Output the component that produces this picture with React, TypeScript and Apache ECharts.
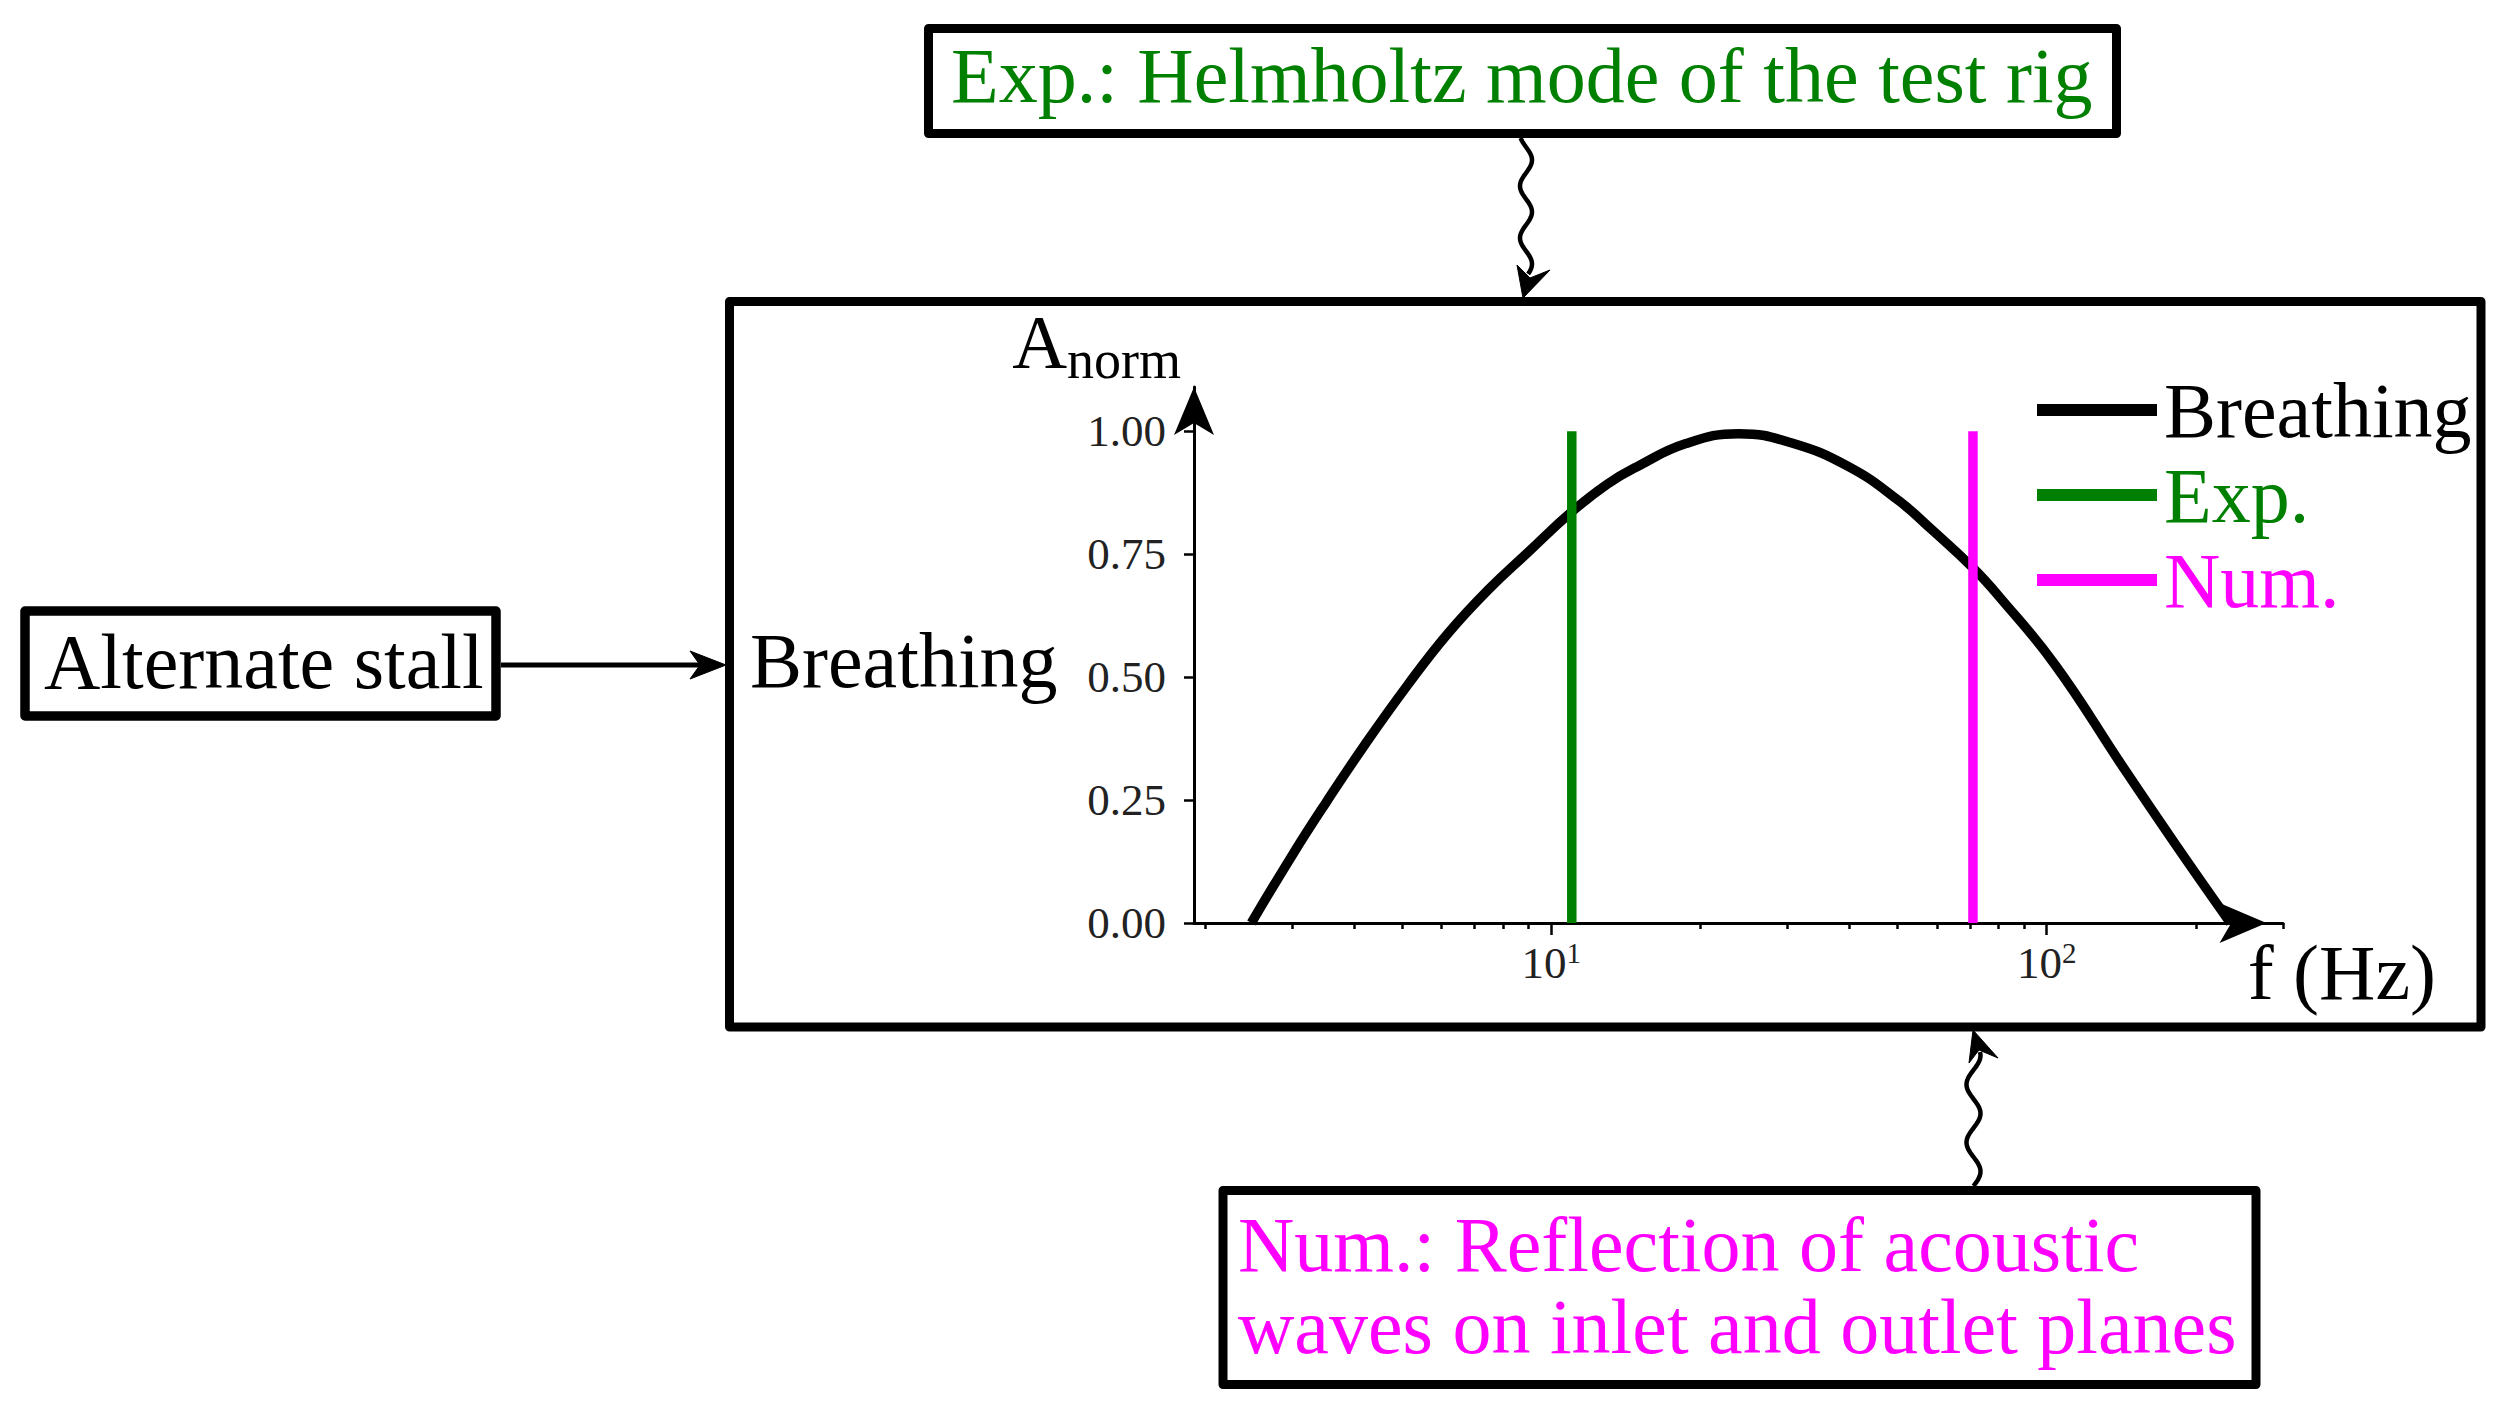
import React, { useEffect, useRef } from "react";
import * as echarts from "echarts";

// ---- data ----
const freqHz = [2.48, 3.0, 3.51, 4.2, 5.13, 6.2, 7.5, 9.0, 10.96, 13.0, 14.9, 18.7, 23.9, 30.6, 40.0, 50.4, 58.6, 71.0, 80.0, 104, 142, 182, 235];
const ampBreathing = [0, 0.138, 0.245, 0.362, 0.484, 0.59, 0.68, 0.755, 0.835, 0.893, 0.928, 0.975, 0.995, 0.976, 0.927, 0.858, 0.8, 0.722, 0.665, 0.525, 0.32, 0.16, 0];
const expFreqHz = 11;
const numFreqHz = 71;
const verticalRange = [0, 1];
const seriesNames = ["Breathing", "Exp.", "Num."];
const yTicks = [0, 0.25, 0.5, 0.75, 1];
const xMajorTicks = [10, 100];
const xMajorExponents = ["1", "2"];
const xMinorTicks = [2, 3, 4, 5, 6, 7, 8, 9, 20, 30, 40, 50, 60, 70, 80, 90, 200, 300];
const topNote = "Exp.: Helmholtz mode of the test rig";
const leftNote = "Alternate stall";
const mainLabel = "Breathing";
const bottomNote = ["Num.: Reflection of acoustic", "waves on inlet and outlet planes"];

const SERIF = "'Liberation Serif', 'Times New Roman', serif";
const GREEN = "#008000";
const MAGENTA = "#ff00ff";
const BIG = 78;

function wavePoints(yStart: number, yEnd: number, xc: number, amp: number, period: number, phase: number) {
  const pts: number[][] = [];
  const n = 80;
  for (let i = 0; i <= n; i++) {
    const y = yStart + ((yEnd - yStart) * i) / n;
    const d = Math.abs(y - yStart);
    pts.push([xc + amp * Math.sin((2 * Math.PI * d) / period + phase), y]);
  }
  return pts;
}

function textEl(text: string, x: number, baseline: number, color: string) {
  return {
    type: "text",
    x,
    y: baseline - 0.3375 * BIG,
    silent: true,
    style: { text, fill: color, font: `${BIG}px ${SERIF}`, align: "left", verticalAlign: "middle" },
  };
}

function boxEl(x: number, y: number, w: number, h: number, lw: number) {
  return {
    type: "rect",
    shape: { x, y, width: w, height: h },
    silent: true,
    style: { fill: "none", stroke: "#000", lineWidth: lw, lineJoin: "round" },
  };
}

export default function App() {
  const ref = useRef<HTMLDivElement>(null);
  useEffect(() => {
    if (!ref.current) return;
    const chart = echarts.init(ref.current, null, { renderer: "svg" });
    const option: any = {
      animation: false,
      backgroundColor: "#ffffff",
      textStyle: { fontFamily: SERIF },
      grid: { left: 1194, top: 387, width: 1089, height: 536, containLabel: false, outerBoundsMode: "none" },
      legend: {
        orient: "vertical",
        left: 2037,
        top: 370,
        padding: 0,
        itemWidth: 120,
        itemHeight: 12,
        itemGap: 5,
        icon: "rect",
        selectedMode: false,
        textStyle: { fontFamily: SERIF, fontSize: BIG, lineHeight: 80, padding: [0, 0, 0, 2] },
        data: [
          { name: seriesNames[0], textStyle: { color: "#000" } },
          { name: seriesNames[1], textStyle: { color: GREEN } },
          { name: seriesNames[2], textStyle: { color: MAGENTA } },
        ],
      },
      xAxis: [
        {
          type: "log",
          logBase: 10,
          min: 1.9,
          max: 300,
          position: "bottom",
          gridIndex: 0,
          axisLine: {
            show: true,
            onZero: false,
            symbol: ["none", "arrow"],
            symbolSize: [30, 47],
            symbolOffset: [0, -16.5],
            lineStyle: { color: "#000", width: 3 },
          },
          axisTick: { show: true, inside: false, length: 12, customValues: xMajorTicks, lineStyle: { color: "#000", width: 2.5 } },
          minorTick: { show: false },
          axisLabel: {
            show: true,
            customValues: xMajorTicks,
            margin: 15,
            formatter: (v: number) => {
              const i = xMajorTicks.findIndex((t) => Math.abs(t - v) / t < 1e-6);
              return `{b|10}{s|${i >= 0 ? xMajorExponents[i] : ""}}`;
            },
            rich: {
              b: { fontFamily: SERIF, fontSize: 45, lineHeight: 50, color: "#222" },
              s: { fontFamily: SERIF, fontSize: 29, lineHeight: 28, verticalAlign: "top", color: "#222" },
            },
          },
          splitLine: { show: false },
          name: "f (Hz)",
          nameLocation: "end",
          nameGap: 153,
          nameTextStyle: { fontFamily: SERIF, fontSize: 78, lineHeight: 80, color: "#000", align: "right", verticalAlign: "top", padding: [9, 0, 0, 0] },
        },
        {
          type: "log",
          logBase: 10,
          min: 1.9,
          max: 300,
          position: "bottom",
          gridIndex: 0,
          axisLine: { show: false, onZero: false },
          axisTick: { show: true, inside: false, length: 6, customValues: xMinorTicks, lineStyle: { color: "#000", width: 2.5 } },
          minorTick: { show: false },
          axisLabel: { show: false },
          splitLine: { show: false },
        },
      ],
      yAxis: {
        type: "value",
        min: 0,
        max: 1.09,
        position: "left",
        axisLine: {
          show: true,
          onZero: false,
          symbol: ["none", "arrow"],
          symbolSize: [30, 48],
          lineStyle: { color: "#000", width: 3 },
        },
        axisTick: { show: true, inside: false, length: 10, customValues: yTicks, lineStyle: { color: "#000", width: 2.5 } },
        axisLabel: {
          show: true,
          customValues: yTicks,
          margin: 28,
          formatter: (v: number) => v.toFixed(2),
          fontFamily: SERIF,
          fontSize: 45,
          color: "#222",
        },
        splitLine: { show: false },
        name: "{a|A}{n|norm}",
        nameLocation: "end",
        nameGap: 0,
        nameTextStyle: {
          align: "right",
          verticalAlign: "bottom",
          padding: [0, 13, 0, 0],
          rich: {
            a: { fontFamily: SERIF, fontSize: 76, lineHeight: 90, color: "#000" },
            n: { fontFamily: SERIF, fontSize: 54, lineHeight: 40, verticalAlign: "bottom", color: "#000" },
          },
        },
      },
      series: [
        {
          name: seriesNames[0],
          type: "line",
          xAxisIndex: 0,
          yAxisIndex: 0,
          data: freqHz.map((f, i) => [f, ampBreathing[i]]),
          symbol: "none",
          showSymbol: false,
          smooth: 0.45,
          lineStyle: { color: "#000", width: 9.5 },
          itemStyle: { color: "#000" },
          z: 2,
        },
        {
          name: seriesNames[1],
          type: "line",
          xAxisIndex: 0,
          yAxisIndex: 0,
          data: verticalRange.map((a) => [expFreqHz, a]),
          symbol: "none",
          showSymbol: false,
          lineStyle: { color: GREEN, width: 9.5 },
          itemStyle: { color: GREEN },
          z: 3,
        },
        {
          name: seriesNames[2],
          type: "line",
          xAxisIndex: 0,
          yAxisIndex: 0,
          data: verticalRange.map((a) => [numFreqHz, a]),
          symbol: "none",
          showSymbol: false,
          lineStyle: { color: MAGENTA, width: 9.5 },
          itemStyle: { color: MAGENTA },
          z: 3,
        },
      ],
      graphic: {
        elements: [
          // boxes
          boxEl(928.5, 28.5, 1188, 105, 9),
          boxEl(729.5, 301.5, 1751.5, 725.5, 9),
          boxEl(25, 611, 471, 105, 9.5),
          boxEl(1223, 1190.5, 1033, 194, 9),
          // texts
          textEl(topNote, 951, 102, GREEN),
          textEl(leftNote, 44, 688, "#000"),
          textEl(mainLabel, 750, 687, "#000"),
          textEl(bottomNote[0], 1238, 1271, MAGENTA),
          textEl(bottomNote[1], 1238, 1353, MAGENTA),
          // straight arrow from left box
          {
            type: "line",
            silent: true,
            shape: { x1: 501, y1: 665, x2: 702, y2: 665 },
            style: { stroke: "#000", lineWidth: 5 },
          },
          {
            type: "polygon",
            silent: true,
            shape: { points: [[726, 665], [690, 651], [700, 665], [690, 679]] },
            style: { fill: "#000", stroke: "#000", lineWidth: 1 },
          },
          // wavy arrow from top box
          {
            type: "polyline",
            silent: true,
            shape: { points: wavePoints(138, 274, 1526, 6, 52, -1.087) },
            style: { stroke: "#000", lineWidth: 4.5, fill: "none" },
          },
          {
            type: "polygon",
            silent: true,
            shape: { points: [[1523, 298], [1550, 270], [1530, 278], [1517, 265]] },
            style: { fill: "#000", stroke: "#000", lineWidth: 1 },
          },
          // wavy arrow from bottom box
          {
            type: "polyline",
            silent: true,
            shape: { points: wavePoints(1186, 1052, 1973.5, 7, 58, 0) },
            style: { stroke: "#000", lineWidth: 4.5, fill: "none" },
          },
          {
            type: "polygon",
            silent: true,
            shape: { points: [[1973, 1030], [1998, 1058], [1979, 1050], [1969, 1063]] },
            style: { fill: "#000", stroke: "#000", lineWidth: 1 },
          },
        ],
      },
    };
    chart.setOption(option);
    return () => chart.dispose();
  }, []);
  return (
    <div
      ref={ref}
      style={{ position: "fixed", left: 0, top: 0, width: 2520, height: 1412, background: "#ffffff" }}
    />
  );
}
